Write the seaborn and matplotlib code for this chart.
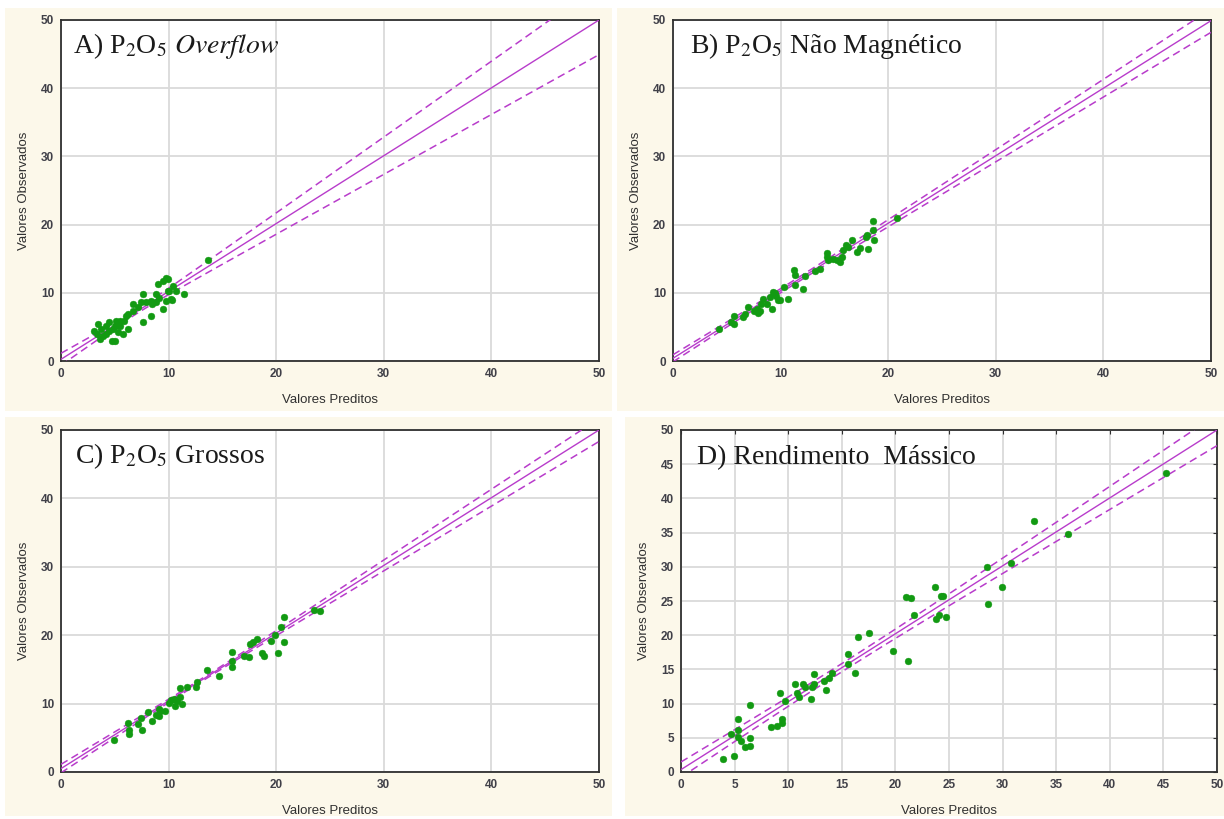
import numpy as np
import matplotlib
matplotlib.use("Agg")
import matplotlib.pyplot as plt
from matplotlib.patches import Rectangle
import seaborn as sns

sns.set_style("white")
plt.rcParams["font.family"] = ["Liberation Sans", "DejaVu Sans"]
plt.rcParams["mathtext.fontset"] = "stix"

# ---- data: predicted vs observed values per response ----
pred_a = [13.7, 11.4, 10.06, 9.9, 9.45, 9.0, 8.8, 9.45, 10.2, 9.75, 7.6, 7.45, 7.9, 8.4,
          7.6, 6.7, 8.4, 8.5, 6.2, 5.9, 6.2, 5.45, 5.15, 4.8, 4.5, 4.2, 3.75, 3.45, 3.3,
          3.6, 4.7, 5.0, 5.75, 5.3, 4.2, 3.9, 3.1, 4.5, 5.0, 5.45, 6.05, 6.7, 7.15, 8.8,
          9.1, 9.9, 10.4, 10.7, 9.75, 10.3]
obs_a = [14.8, 9.8, 10.3, 12.0, 11.8, 11.3, 9.8, 7.6, 9.1, 8.85, 9.8, 8.6, 8.6, 6.6,
         5.65, 8.35, 8.85, 8.35, 6.9, 5.9, 4.7, 5.2, 5.9, 4.7, 5.65, 5.2, 4.7, 5.4, 3.9,
         3.2, 2.95, 2.95, 3.9, 4.2, 3.9, 3.7, 4.4, 4.4, 5.2, 5.9, 6.6, 7.4, 7.9, 8.6,
         9.3, 10.3, 11.05, 10.3, 12.1, 9.0]

pred_b = [20.8, 18.6, 18.6, 18.7, 18.0, 17.9, 18.1, 17.4, 17.1, 16.6, 16.3, 15.8, 15.7,
          15.5, 15.2, 14.9, 14.4, 14.3, 14.3, 13.2, 12.3, 12.05, 11.2, 11.3, 11.3, 10.7,
          10.3, 9.8, 9.5, 9.3, 9.0, 8.7, 9.2, 8.2, 8.1, 7.8, 7.9, 7.0, 6.7, 6.5, 5.7, 5.7,
          5.4, 4.3, 8.4, 9.6, 9.9, 7.5, 13.7, 16.1]
obs_b = [20.9, 20.6, 19.2, 17.7, 18.5, 18.2, 16.4, 16.5, 16.0, 17.8, 16.7, 16.3, 15.3,
         14.5, 14.8, 15.0, 14.8, 15.8, 15.3, 13.2, 12.4, 10.6, 13.3, 12.6, 11.1, 9.1,
         10.8, 8.9, 9.9, 10.1, 9.4, 8.4, 7.6, 8.4, 7.4, 7.6, 7.1, 7.9, 6.9, 6.4, 6.6, 5.4,
         5.7, 4.7, 9.1, 9.6, 8.9, 7.4, 13.5, 17.0]

pred_c = [23.5, 24.1, 20.7, 20.7, 20.15, 20.4, 19.9, 19.5, 18.7, 18.85, 18.2, 17.8, 17.6,
          17.5, 17.0, 15.9, 15.9, 15.9, 14.7, 13.6, 12.65, 12.5, 11.7, 11.1, 11.25, 11.1,
          10.6, 10.5, 10.0, 9.7, 9.1, 8.8, 9.1, 8.1, 8.5, 7.5, 7.4, 7.2, 6.2, 6.3, 6.3, 4.9,
          10.2, 10.8, 9.2]
obs_c = [23.7, 23.6, 22.7, 19.0, 17.4, 21.2, 20.0, 19.2, 17.4, 17.0, 19.5, 19.0, 18.7,
         16.8, 17.0, 17.5, 16.3, 15.4, 14.1, 14.9, 13.1, 12.4, 12.45, 12.35, 9.9, 10.9,
         9.7, 10.6, 10.15, 8.9, 9.2, 8.4, 8.2, 8.8, 7.45, 6.2, 7.9, 7.0, 7.2, 5.5, 6.2,
         4.75, 10.5, 10.4, 8.9]

pred_d = [3.9, 4.9, 4.7, 5.3, 5.35, 5.35, 5.6, 6.0, 6.4, 6.4, 6.4, 8.4, 9.0, 9.4, 9.4,
          9.2, 9.7, 10.6, 10.8, 11.0, 11.4, 11.6, 12.1, 12.2, 12.45, 12.45, 13.3, 13.5,
          13.8, 14.1, 15.6, 15.6, 16.2, 16.5, 17.55, 19.8, 21.0, 21.45, 21.2, 21.7, 23.7,
          23.8, 24.1, 24.25, 24.45, 24.7, 28.6, 28.5, 29.95, 30.8, 32.9, 36.1, 45.2]
obs_d = [1.95, 2.3, 5.6, 6.2, 7.8, 5.1, 4.6, 3.7, 3.75, 5.0, 9.75, 6.6, 6.7, 7.2, 7.8,
         11.5, 10.4, 12.8, 11.5, 11.0, 12.8, 12.5, 10.6, 12.5, 12.9, 14.3, 13.3, 12.0,
         13.7, 14.5, 17.3, 15.8, 14.5, 19.7, 20.3, 17.7, 25.6, 25.5, 16.3, 22.9, 27.1,
         22.3, 22.9, 25.7, 25.7, 22.6, 24.5, 29.9, 27.1, 30.6, 36.7, 34.8, 43.7]

# fitted line (observed = icpt + slope * predicted) and its 95% band:
# half-width = sqrt(band_min^2 + (band_growth * (x - band_mid))^2)
fit_icpt = [0.25, 0.4, 0.5, 0.35]
fit_slope = [0.995, 0.99, 0.99, 0.993]
band_mid = [7.0, 10.0, 13.0, 15.0]
band_min = [0.3, 0.3, 0.2, 0.6]
band_growth = [0.118, 0.042, 0.045, 0.063]

titles = [r"A) P$_2$O$_5$ $\mathit{Overflow}$",
          r"B) P$_2$O$_5$ Não Magnético",
          r"C) P$_2$O$_5$ Grossos",
          r"D) Rendimento  Mássico"]
x_label = "Valores Preditos"
y_label = "Valores Observados"
x_steps = [10, 10, 10, 5]
y_steps = [10, 10, 10, 5]

W, H = 1224, 819
fig = plt.figure(figsize=(W / 100, H / 100), dpi=100, facecolor="white")

cream = "#fcf8ea"
# panel backgrounds (pixel boxes: x0, y0, x1, y1)
for x0, y0, x1, y1 in [(5, 8, 612, 411), (617, 8, 1224, 411),
                       (5, 417, 612, 816), (625, 417, 1224, 816)]:
    fig.patches.append(Rectangle((x0 / W, 1 - y1 / H), (x1 - x0) / W, (y1 - y0) / H,
                                 transform=fig.transFigure, facecolor=cream,
                                 edgecolor="none", zorder=-10))

boxes = [(61, 20, 599, 361), (673, 20, 1211, 361),
         (61, 430, 599, 772), (681, 430, 1217, 772)]
data = [(pred_a, obs_a), (pred_b, obs_b), (pred_c, obs_c), (pred_d, obs_d)]
title_pos = [(0.022, 0.925), (0.032, 0.925), (0.026, 0.924), (0.030, 0.920)]

line_col = "#b83ccb"
pt_col = "#129a12"

for i, ((x0, y0, x1, y1), (px, oy)) in enumerate(zip(boxes, data)):
    ax = fig.add_axes([x0 / W, 1 - y1 / H, (x1 - x0) / W, (y1 - y0) / H])
    ax.set_zorder(1)
    ax.set_facecolor("white")

    xs = np.linspace(0, 50, 300)
    fit = fit_icpt[i] + fit_slope[i] * xs
    half = np.sqrt(band_min[i] ** 2 + (band_growth[i] * (xs - band_mid[i])) ** 2)

    ax.plot(xs, fit, color=line_col, lw=1.0, zorder=3)
    ax.plot(xs, fit + half, color=line_col, lw=1.1, ls=(0, (5, 3)), zorder=3)
    ax.plot(xs, fit - half, color=line_col, lw=1.1, ls=(0, (5, 3)), zorder=3)

    sns.scatterplot(x=px, y=oy, ax=ax, color=pt_col, s=24, edgecolor=pt_col,
                    linewidth=0.3, zorder=4, legend=False)

    ax.set_xlim(0, 50)
    ax.set_ylim(0, 50)
    ax.set_xticks(np.arange(0, 51, x_steps[i]))
    ax.set_yticks(np.arange(0, 51, y_steps[i]))
    ax.grid(True, color="#dadada", lw=1.3, zorder=0)
    ax.set_axisbelow(True)
    for sp in ax.spines.values():
        sp.set_color("#303030")
        sp.set_linewidth(1.3)
        sp.set_visible(True)
    ax.tick_params(axis="both", direction="in", length=3, width=0.8,
                   color="#303030", labelsize=8.5, labelcolor="#404048", pad=5)
    if i == 3:
        ax.tick_params(right=True, top=True)
    for lab in ax.get_xticklabels() + ax.get_yticklabels():
        lab.set_fontweight("bold")
    ax.set_xlabel(x_label, fontsize=9.5, color="#303030", labelpad=10)
    ax.set_ylabel(y_label, fontsize=9.5, color="#303030", labelpad=8)

    tx, ty = title_pos[i]
    ax.text(tx, ty, titles[i], transform=ax.transAxes, ha="left", va="center",
            fontsize=20, family=["Liberation Serif", "DejaVu Serif"],
            color="#1a1a1a", zorder=6)

fig.savefig("out.png", dpi=100, facecolor="white")
